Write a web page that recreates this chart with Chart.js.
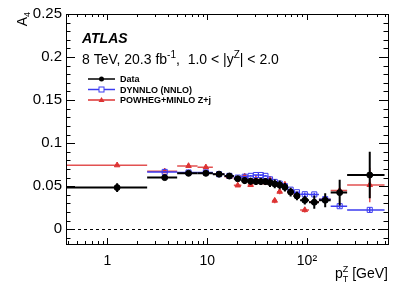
<!DOCTYPE html>
<html>
<head>
<meta charset="utf-8">
<script src="https://cdn.jsdelivr.net/npm/chart.js@4.4.1/dist/chart.umd.min.js"></script>
<style>
  html, body { margin: 0; padding: 0; background: #fff; }
  #wrap { position: relative; width: 409px; height: 294px; }
</style>
</head>
<body>
<div id="wrap"><canvas id="chart" width="409" height="294"></canvas></div>
<script>
// pT(Z) bins in GeV
const binEdges = [0, 2.5, 5.0, 8.0, 11.4, 14.9, 18.5, 22.0, 25.5, 29.0, 32.6, 36.4, 40.4, 44.9, 50.2, 56.4, 63.9, 73.4, 85.4, 105.0, 132.0, 173.0, 253.0, 600.0];

const dataValues = [0.0484, 0.0600, 0.0650, 0.0650, 0.0640, 0.0618, 0.0587, 0.0565, 0.0558, 0.0554, 0.0554, 0.0554, 0.0542, 0.0527, 0.0515, 0.0488, 0.0432, 0.0387, 0.0337, 0.0314, 0.0337, 0.0426, 0.0630];
const dataErrors = [0.005, 0.002, 0.002, 0.002, 0.002, 0.002, 0.003, 0.004, 0.004, 0.004, 0.004, 0.004, 0.005, 0.005, 0.005, 0.005, 0.005, 0.005, 0.005, 0.0075, 0.008, 0.015, 0.027];

const dynnloValues = [null, 0.0666, 0.0660, 0.0660, 0.0640, 0.0620, 0.0600, 0.0610, 0.0620, 0.0630, 0.0630, 0.0620, 0.0580, 0.0550, 0.0530, 0.0500, 0.0460, 0.0430, 0.0407, 0.0405, 0.0350, 0.0268, 0.0225];
const dynnloErrors = [0, 0.001, 0.001, 0.001, 0.001, 0.001, 0.001, 0.001, 0.001, 0.001, 0.001, 0.001, 0.001, 0.001, 0.001, 0.001, 0.001, 0.001, 0.002, 0.002, 0.002, 0.002, 0.003];

const powhegValues = [0.0744, 0.0674, 0.0736, 0.0720, 0.0640, 0.0610, 0.0510, 0.0615, 0.0515, 0.0580, 0.0565, 0.0545, 0.0580, 0.0333, 0.0437, 0.0520, 0.0440, 0.0400, 0.0224, 0.0320, 0.0350, 0.0450, 0.0515];
const powhegErrors = [0.001, 0.001, 0.001, 0.002, 0.002, 0.002, 0.002, 0.003, 0.002, 0.003, 0.003, 0.003, 0.003, 0.003, 0.003, 0.003, 0.003, 0.003, 0.003, 0.003, 0.003, 0.003, 0.020];

const xTicks = [1, 10, 100];
const xTickLabels = ['1', '10', '10\u00b2'];
const yTicks = [0, 0.05, 0.1, 0.15, 0.2, 0.25];
const yTickLabels = ['0', '0.05', '0.1', '0.15', '0.2', '0.25'];

const binCenters = binEdges.slice(0, -1).map((lo, i) => (lo + binEdges[i + 1]) / 2);

function toPoints(values) {
    return values.map((v, i) => v === null ? null : { x: binCenters[i], y: v }).filter(p => p);
}

const FONT = '"Liberation Sans", Arial, Helvetica, sans-serif';
const BLUE = '#3c3cf0';
const RED = '#dd3333';

// ROOT-like frame, inward ticks, error bars and labels
const rootStyle = {
    id: 'rootStyle',
    beforeDatasetsDraw(chart) {
        const { ctx, chartArea: a, scales: { y } } = chart;
        ctx.save();
        ctx.strokeStyle = '#000';
        ctx.lineWidth = 1;
        ctx.setLineDash([3, 3]);
        const py = Math.round(y.getPixelForValue(0)) + 0.5;
        ctx.beginPath();
        ctx.moveTo(a.left, py);
        ctx.lineTo(a.right, py);
        ctx.stroke();
        ctx.restore();
    },
    beforeDatasetDraw(chart, args) {
        const ds = chart.data.datasets[args.index];
        const { ctx, chartArea: a, scales: { x, y } } = chart;
        ctx.save();
        ctx.beginPath();
        ctx.rect(a.left, a.top, a.width, a.height);
        ctx.clip();
        ctx.strokeStyle = ds.barColor;
        ctx.lineWidth = ds.barWidth;
        ds.values.forEach((v, i) => {
            if (v === null) return;
            const py = y.getPixelForValue(v);
            const cx = x.getPixelForValue(binCenters[i]);
            ctx.beginPath();
            ctx.moveTo(x.getPixelForValue(Math.max(binEdges[i], 0.01)), py);
            ctx.lineTo(x.getPixelForValue(binEdges[i + 1]), py);
            ctx.moveTo(cx, y.getPixelForValue(v - ds.errors[i]));
            ctx.lineTo(cx, y.getPixelForValue(v + ds.errors[i]));
            ctx.stroke();
        });
        ctx.restore();
    },
    afterDraw(chart) {
        const { ctx, chartArea: a, scales: { x, y } } = chart;
        ctx.save();
        ctx.strokeStyle = '#000';
        ctx.lineWidth = 1;

        // frame
        ctx.strokeRect(Math.round(a.left) + 0.5, Math.round(a.top) + 0.5,
            Math.round(a.width), Math.round(a.height));

        // x ticks (log), bottom and top
        ctx.beginPath();
        for (let dec = 0.1; dec <= 100; dec *= 10) {
            for (let m = 1; m <= 9; m++) {
                const v = dec * m;
                if (v < x.min || v > x.max) continue;
                const px = Math.round(x.getPixelForValue(v)) + 0.5;
                const len = m === 1 ? 6 : 3;
                ctx.moveTo(px, a.bottom);
                ctx.lineTo(px, a.bottom - len);
                ctx.moveTo(px, a.top);
                ctx.lineTo(px, a.top + len);
            }
        }
        // y ticks, left and right
        for (let k = -1; k <= 25; k++) {
            const v = k / 100;
            if (v < y.min || v > y.max) continue;
            const py = Math.round(y.getPixelForValue(v)) + 0.5;
            const len = k % 5 === 0 ? 9 : 4.5;
            ctx.moveTo(a.left, py);
            ctx.lineTo(a.left + len, py);
            ctx.moveTo(a.right, py);
            ctx.lineTo(a.right - len, py);
        }
        ctx.stroke();

        ctx.fillStyle = '#000';
        ctx.textBaseline = 'alphabetic';

        // ATLAS label
        ctx.font = 'italic bold 14px ' + FONT;
        ctx.fillText('ATLAS', 82, 43);

        // subtitle with superscripts
        let tx = 82;
        const base = 64;
        const parts = [
            ['8 TeV, 20.3 fb', 14, 0],
            ['-1', 10, -6],
            [',  1.0 < |y', 14, 0],
            ['Z', 10, -6],
            ['| < 2.0', 14, 0]
        ];
        parts.forEach(([t, size, dy]) => {
            ctx.font = size + 'px ' + FONT;
            ctx.fillText(t, tx, base + dy);
            tx += ctx.measureText(t).width;
        });

        // legend
        const rows = [
            ['Data', '#000', 'circle'],
            ['DYNNLO (NNLO)', BLUE, 'square'],
            ['POWHEG+MINLO Z+j', RED, 'triangle']
        ];
        rows.forEach(([label, col, shape], i) => {
            const ly = 79 + i * 10.5;
            ctx.strokeStyle = col;
            ctx.fillStyle = col;
            ctx.lineWidth = 1.5;
            ctx.beginPath();
            ctx.moveTo(88, ly);
            ctx.lineTo(115, ly);
            ctx.stroke();
            const mx = 101.5;
            if (shape === 'circle') {
                ctx.beginPath();
                ctx.arc(mx, ly, 2.5, 0, Math.PI * 2);
                ctx.fill();
            } else if (shape === 'square') {
                ctx.fillStyle = '#fff';
                ctx.fillRect(mx - 2.5, ly - 2.5, 5, 5);
                ctx.lineWidth = 1;
                ctx.strokeRect(mx - 2.5, ly - 2.5, 5, 5);
            } else {
                ctx.beginPath();
                ctx.moveTo(mx, ly - 3);
                ctx.lineTo(mx + 3, ly + 2);
                ctx.lineTo(mx - 3, ly + 2);
                ctx.closePath();
                ctx.fill();
            }
            ctx.fillStyle = '#000';
            ctx.font = 'bold 9px ' + FONT;
            ctx.fillText(label, 120, ly + 3.2);
        });

        // x axis title: p_T^Z [GeV], right aligned
        ctx.font = '14px ' + FONT;
        const rest = ' [GeV]';
        const restW = ctx.measureText(rest).width;
        const pW = ctx.measureText('p').width;
        ctx.font = '9px ' + FONT;
        const subW = Math.max(ctx.measureText('T').width, ctx.measureText('Z').width);
        let xx = a.right - restW - subW - pW;
        const xb = 278;
        ctx.font = '14px ' + FONT;
        ctx.fillText('p', xx, xb);
        xx += pW;
        ctx.font = '9px ' + FONT;
        ctx.fillText('Z', xx, xb - 6);
        ctx.fillText('T', xx, xb + 4);
        xx += subW;
        ctx.font = '14px ' + FONT;
        ctx.fillText(rest, xx, xb);

        // y axis title: A_4, rotated
        ctx.save();
        ctx.translate(27, 12);
        ctx.rotate(-Math.PI / 2);
        ctx.font = '14px ' + FONT;
        const aW = ctx.measureText('A').width;
        ctx.font = '9px ' + FONT;
        const fourW = ctx.measureText('4').width;
        ctx.font = '14px ' + FONT;
        ctx.fillText('A', -(aW + fourW), 0);
        ctx.font = '9px ' + FONT;
        ctx.fillText('4', -fourW, 3);
        ctx.restore();

        ctx.restore();
    }
};

const ctx = document.getElementById('chart').getContext('2d');
new Chart(ctx, {
    type: 'scatter',
    data: {
        datasets: [
            {
                label: 'Data',
                data: toPoints(dataValues),
                values: dataValues, errors: dataErrors,
                barColor: '#000', barWidth: 2,
                pointStyle: 'circle', pointRadius: 3,
                backgroundColor: '#000', borderColor: '#000', borderWidth: 1
            },
            {
                label: 'DYNNLO (NNLO)',
                data: toPoints(dynnloValues),
                values: dynnloValues, errors: dynnloErrors,
                barColor: BLUE, barWidth: 1.5,
                pointStyle: 'rect', pointRadius: 3.6,
                backgroundColor: 'rgba(255,255,255,0)', borderColor: BLUE, borderWidth: 1
            },
            {
                label: 'POWHEG+MINLO Z+j',
                data: toPoints(powhegValues),
                values: powhegValues, errors: powhegErrors,
                barColor: 'rgba(221,51,51,0.85)', barWidth: 1.5,
                pointStyle: 'triangle', pointRadius: 3.2,
                backgroundColor: RED, borderColor: RED, borderWidth: 1
            }
        ]
    },
    options: {
        responsive: false,
        animation: false,
        layout: { padding: { left: 0, right: 21, top: 14, bottom: 0 } },
        plugins: {
            legend: { display: false },
            tooltip: { enabled: false }
        },
        scales: {
            x: {
                type: 'logarithmic',
                min: 0.384,
                max: 650,
                grid: { display: false, drawTicks: false },
                border: { display: false },
                afterBuildTicks: function(scale) {
                    scale.ticks = xTicks.map(v => ({ value: v }));
                },
                afterFit: function(scale) { scale.height = 50; },
                ticks: {
                    autoSkip: false,
                    maxRotation: 0,
                    padding: 9,
                    color: '#000',
                    font: { family: FONT, size: 14 },
                    callback: function(value, index) { return xTickLabels[index]; }
                }
            },
            y: {
                min: -0.0171,
                max: 0.25,
                grid: { display: false, drawTicks: false },
                border: { display: false },
                afterBuildTicks: function(scale) {
                    scale.ticks = yTicks.map(v => ({ value: v }));
                },
                afterFit: function(scale) { scale.width = 66; },
                ticks: {
                    autoSkip: false,
                    padding: 4,
                    color: '#000',
                    font: { family: FONT, size: 15 },
                    callback: function(value, index) { return yTickLabels[index]; }
                }
            }
        }
    },
    plugins: [rootStyle]
});
</script>
</body>
</html>
